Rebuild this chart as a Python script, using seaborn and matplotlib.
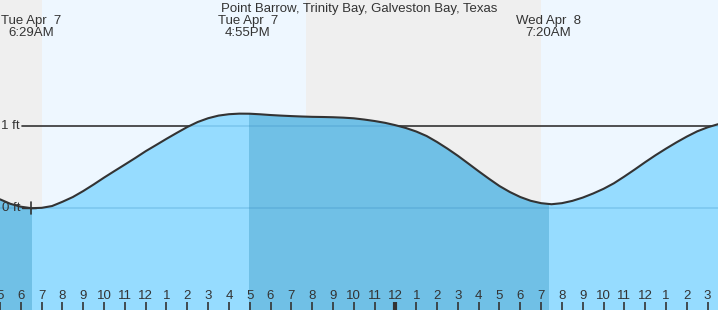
import numpy as np
import pandas as pd
import matplotlib
matplotlib.use("Agg")
import matplotlib.pyplot as plt
from matplotlib.patches import Rectangle
import seaborn as sns

# ---- data (hours since Tue Apr 7 00:00, read every half hour; feet) ----
times = np.arange(5.0, 40.0, 0.5)
heights = [0.106, 0.051, 0.016, -0.002, 0.002, 0.024, 0.076, 0.134, 0.207, 0.287,
           0.371, 0.451, 0.530, 0.610, 0.693, 0.768, 0.844, 0.917, 0.988, 1.049,
           1.095, 1.127, 1.144, 1.151, 1.150, 1.143, 1.134, 1.127, 1.121, 1.116,
           1.112, 1.110, 1.107, 1.102, 1.094, 1.079, 1.061, 1.039, 1.010, 0.976,
           0.933, 0.878, 0.805, 0.724, 0.637, 0.543, 0.448, 0.356, 0.268, 0.195,
           0.134, 0.088, 0.059, 0.046, 0.059, 0.087, 0.127, 0.177, 0.234, 0.302,
           0.384, 0.470, 0.559, 0.644, 0.724, 0.800, 0.871, 0.935, 0.984, 1.022]

tide_times = [6.483, 16.917, 31.333]
tide_labels = ["Tue Apr  7\n6:29AM", "Tue Apr  7\n4:55PM", "Wed Apr  8\n7:20AM"]
falling_spans = [(4.0, 6.55), (16.95, 31.4)]
night_spans = [(4.0, 7.02), (19.71, 31.0)]
tick_hours = list(range(5, 40))
tick_labels = [str((h - 1) % 12 + 1) for h in tick_hours]
level_ticks = [0, 1]
level_labels = ["0 ft", "1 ft"]
title = "Point Barrow, Trinity Bay, Galveston Bay, Texas"

# ---- figure ----
sns.set_style("white")
plt.rcParams["font.family"] = ["Liberation Sans", "DejaVu Sans"]
fig = plt.figure(figsize=(7.18, 3.10), dpi=100)
ax = fig.add_axes([0, 0, 1, 1])
xmin, xmax = 5.0, 39.5
ymin, ymax = -1.244, 2.537
ax.set_xlim(xmin, xmax)
ax.set_ylim(ymin, ymax)
ax.axis("off")

DAY = "#EEF7FF"
NIGHT = "#EFEFEF"
LIGHT = "#96DCFF"
DARK = "#70C0E6"
INK = "#333333"
FS = 9.5

ax.add_patch(Rectangle((xmin, ymin), xmax - xmin, ymax - ymin, color=DAY, zorder=0))
for a, b in night_spans:
    ax.axvspan(a, b, color=NIGHT, zorder=0.5, lw=0)

px = (xmax - xmin) / 718.0
py = 1 / 82.0
# 1 ft reference line (dark, behind water)
ax.plot([xmin + 22 * px, xmax], [1, 1], color=INK, lw=1.2, zorder=1)

df = pd.DataFrame({"t": times, "h": heights})
base = ax.fill_between(df["t"], df["h"], ymin, color=LIGHT, lw=0, zorder=2)
for a, b in falling_spans:
    p = ax.fill_between(df["t"], df["h"], ymin, color=DARK, lw=0, zorder=2.1)
    p.set_clip_path(Rectangle((a, ymin), b - a, ymax - ymin, transform=ax.transData))

clip_path = base.get_paths()[0]
for lv in level_ticks:
    ln, = ax.plot([xmin, xmax], [lv, lv], color="#2f86bf", alpha=0.25, lw=1.2, zorder=2.5)
    ln.set_clip_path(clip_path, ax.transData)

sns.lineplot(data=df, x="t", y="h", ax=ax, color=INK, lw=1.5, zorder=3,
             estimator=None, sort=False)
ax.axis("off")

# level labels and small mark
for lv, lab in zip(level_ticks, level_labels):
    ax.text(xmin + 20 * px, lv, lab, ha="right", va="center", fontsize=FS,
            color=INK, zorder=4)
ax.plot([tide_times[0], tide_times[0]], [-6 * py, 6 * py], color=INK, lw=1.2, zorder=4)
ax.plot([xmin + 22 * px, xmin + 36 * px], [0, 0], color=INK, lw=1.0, zorder=4)

# bottom hour ticks
for h, lab in zip(tick_hours, tick_labels):
    lw = 3 if h == 24 else 1.2
    ax.plot([h, h], [ymin, ymin + 8 * py], color=INK, lw=lw, zorder=4,
            solid_capstyle="butt")
    ax.text(h, ymin + 14 * py, lab, ha="center", va="center", fontsize=FS,
            color=INK, zorder=4)

# tide time labels and title
for t, lab in zip(tide_times, tide_labels):
    ax.text(t, ymax - 15.5 * py, lab, ha="center", va="top", fontsize=FS,
            color=INK, linespacing=1.0, zorder=4)
ax.text((xmin + xmax) / 2, ymax - 3.0 * py, title, ha="center", va="top",
        fontsize=FS, color=INK, zorder=4)

fig.savefig("out.png", dpi=100)
